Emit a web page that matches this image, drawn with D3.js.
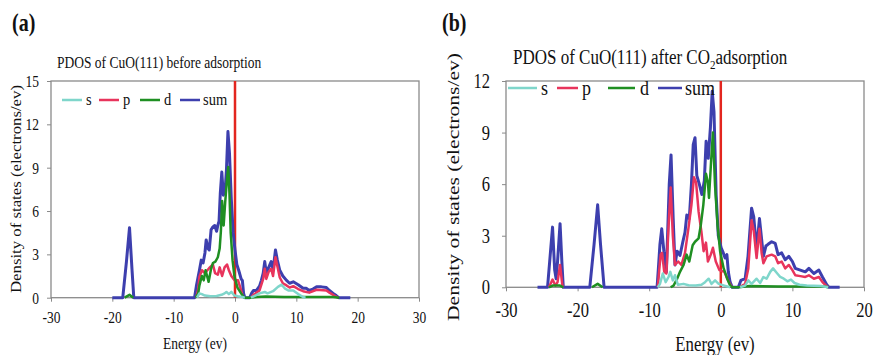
<!DOCTYPE html>
<html>
<head>
<meta charset="utf-8">
<script src="https://cdn.jsdelivr.net/npm/d3@7"></script>
<style>
  body { margin: 0; background: #fff; }
  svg { display: block; }
  text { font-family: 'Liberation Serif', 'Times New Roman', Times, serif; fill: #111; }
</style>
</head>
<body>
<div id="chart"></div>
<script>
(function() {
  const seriesNames = ['s', 'p', 'd', 'sum'];
  const seriesColors = { s: '#7fd6cb', p: '#e8345c', d: '#1f8f22', sum: '#3d3fae' };

  const ticksAx = [-30, -20, -10, 0, 10, 20, 30];
  const ticksAy = [0, 3, 6, 9, 12, 15];
  const ticksBx = [-30, -20, -10, 0, 10, 20];
  const ticksBy = [0, 3, 6, 9, 12];

  // [energy (eV), DOS]; null breaks the line
  const aSum = [[-20,0],[-18.3,0],[-17.7,2.5],[-17.2,4.85],[-16.8,2.0],[-16.5,0],
    [-6.6,0],[-6.3,0.8],[-5.8,1.9],[-5.5,2.6],[-5.2,2.4],[-4.9,3.1],[-4.7,4.0],[-4.4,3.4],[-4.2,3.3],
    [-3.9,4.7],[-3.6,4.9],[-3.3,5.0],[-3.0,4.6],[-2.8,5.0],[-2.6,5.3],[-2.4,7.2],[-2.15,8.7],[-1.9,7.1],
    [-1.6,7.5],[-1.4,8.8],[-1.15,11.5],[-0.9,10.0],[-0.6,6.8],[-0.3,4.5],[0,3.3],[0.3,2.3],[0.6,1.9],
    [1.0,1.3],[1.2,1.2],[1.4,0.3],[1.6,0],
    [2.4,0],[2.7,0.3],[3.0,0.5],[3.5,0.5],[4.0,0.8],[4.3,1.2],[4.6,1.7],[4.85,2.5],[5.1,1.7],[5.5,2.1],
    [5.9,2.5],[6.2,1.9],[6.6,3.3],[6.9,2.6],[7.3,1.9],[7.8,1.5],[8.4,1.2],[8.9,1.0],[9.5,1.1],[10.3,0.9],
    [11.1,0.65],[11.6,0.65],[12.1,0.5],[12.7,0.6],[13.3,0.75],[14.1,0.75],[14.9,0.7],[15.4,0.5],
    [16.0,0.3],[16.5,0.15],[16.9,0],[18.8,0]];
  const aP = [[-6.3,0],[-6.0,0.6],[-5.8,1.45],[-5.4,1.9],[-4.9,1.7],[-4.5,1.9],[-4.1,2.1],[-3.6,2.3],
    [-3.25,1.7],[-2.8,1.6],[-2.5,2.1],[-2.1,1.5],[-1.7,2.1],[-1.3,2.3],[-1.0,1.9],[-0.6,1.5],[-0.05,1.2],
    [0.5,1.2],[1.0,0.5],[1.3,0], null,
    [2.6,0],[3.0,0.2],[4.0,0.5],[4.3,0.9],[4.6,1.3],[4.85,2.0],[5.1,1.3],[5.5,1.8],[5.9,2.0],[6.2,1.5],
    [6.6,2.8],[6.9,2.2],[7.3,1.4],[7.8,1.0],[8.4,0.85],[8.9,0.7],[9.5,0.8],[10.3,0.6],[11.1,0.45],
    [12.1,0.35],[13.3,0.55],[14.9,0.5],[15.4,0.35],[16.3,0.12],[16.8,0]];
  const aD = [[-18.0,0],[-17.2,0.2],[-16.6,0], null,
    [-6.4,0],[-6.0,0.3],[-5.8,0.85],[-5.4,1.5],[-5.1,1.2],[-4.8,1.9],[-4.3,1.1],[-3.9,2.0],[-3.6,2.4],
    [-3.2,2.5],[-2.8,2.8],[-2.5,3.4],[-2.3,4.6],[-2.1,6.7],[-1.85,5.0],[-1.6,6.6],[-1.3,8.2],[-1.1,9.05],
    [-0.9,7.2],[-0.7,4.5],[-0.4,2.6],[-0.1,1.5],[0.4,0.7],[1.0,0.3],[1.5,0],
    [2.5,0],[3.5,0.05],[5,0.08],[8,0.05],[12,0.05],[16,0.05],[17,0]];
  const aS = [[-6.2,0],[-5.8,0.3],[-5.4,0.25],[-4.9,0.15],[-4,0.1],[-3,0.12],[-2.2,0.2],[-1.7,0.3],
    [-1.4,0.4],[-1.0,0.25],[-0.6,0.4],[-0.1,0.15],[0.5,0.1],[1.2,0.05],[1.6,0], null,
    [2.6,0],[3.3,0.15],[4.0,0.3],[4.85,0.4],[5.3,0.3],[6.2,0.45],[7.0,0.75],[7.6,0.9],[8.1,0.65],
    [8.7,0.5],[9.5,0.5],[10.3,0.25],[11.1,0.05],[11.5,0]];

  const bSum = [[-25.6,0],[-24.2,0],[-23.9,1.5],[-23.5,3.5],[-23.2,1.0],[-23.0,0.5],[-22.8,1.5],
    [-22.45,3.7],[-22.2,1.5],[-22.0,0],
    [-18.3,0],[-17.7,2.5],[-17.2,4.8],[-16.8,2.5],[-16.3,0],
    [-8.9,0],[-8.7,1.2],[-8.5,2.5],[-8.25,3.4],[-7.95,2.1],[-7.6,0.9],[-7.2,6.0],[-6.95,7.7],[-6.65,4.0],
    [-6.4,1.3],[-6.1,2.1],[-5.7,1.85],[-5.3,2.65],[-5.0,3.2],[-4.75,4.2],[-4.4,4.0],[-4.1,6.0],[-3.85,8.3],
    [-3.6,8.7],[-3.35,6.5],[-3.0,6.0],[-2.65,5.4],[-2.3,6.2],[-2.05,8.5],[-1.75,7.5],[-1.45,9.3],
    [-1.2,11.4],[-0.95,10.2],[-0.65,5.4],[-0.35,3.0],[0.05,2.3],[0.35,2.0],[0.6,1.7],[0.85,1.9],
    [1.05,0.9],[1.3,0.3],[1.6,0],
    [2.45,0],[2.8,0.4],[3.4,0.5],[3.8,1.8],[4.3,4.6],[4.6,4.1],[5.0,2.2],[5.4,4.0],[5.7,2.8],[5.95,1.8],
    [6.3,2.4],[6.6,2.5],[7.1,2.65],[7.6,2.55],[8.0,1.9],[8.5,2.0],[9.0,1.6],[9.5,1.8],[10.0,1.5],
    [10.4,1.1],[11.1,1.0],[11.8,0.9],[12.3,1.1],[13.0,0.8],[13.7,1.0],[14.2,0.6],[14.8,0.15],[15.1,0],
    [16.6,0]];
  const bP = [[-24.0,0],[-23.5,0.45],[-23.1,0.1],[-22.8,0.3],[-22.45,1.3],[-22.1,0], null,
    [-8.8,0],[-8.6,1.0],[-8.4,1.9],[-8.2,2.0],[-7.9,0.9],[-7.6,0.8],[-7.3,3.5],[-7.0,5.8],[-6.7,3.0],
    [-6.4,1.3],[-5.95,1.5],[-5.5,1.3],[-5.0,2.0],[-4.5,3.5],[-4.1,4.8],[-3.75,6.4],[-3.45,6.1],[-3.1,4.4],
    [-2.7,3.2],[-2.4,2.1],[-2.07,2.6],[-1.8,1.5],[-1.4,1.9],[-1.1,2.3],[-0.7,1.5],[-0.2,1.0],[0.5,0.9],
    [0.9,0.5],[1.4,0.1],[1.6,0], null,
    [2.6,0],[3.4,0.2],[3.84,1.1],[4.3,3.9],[4.6,3.3],[5.0,1.7],[5.4,3.4],[5.7,2.0],[5.95,1.4],[6.4,1.8],
    [7.1,1.9],[7.6,1.8],[8.0,1.4],[8.5,1.5],[9.0,1.1],[9.5,1.3],[10.0,1.0],[10.4,0.7],[11.1,0.65],
    [11.8,0.6],[12.3,0.7],[13.0,0.5],[13.7,0.6],[14.2,0.3],[14.8,0.05],[15.0,0]];
  const bD = [[-24.0,0],[-23.5,0.1],[-22.45,0.1],[-22.0,0], null,
    [-18.0,0],[-17.2,0.2],[-16.5,0], null,
    [-7.0,0],[-6.6,0.1],[-6.1,0.5],[-5.7,0.9],[-5.2,1.3],[-4.77,1.9],[-4.4,1.5],[-3.93,2.45],[-3.6,2.65],
    [-3.1,2.85],[-2.8,3.6],[-2.44,4.8],[-2.07,6.6],[-1.8,6.1],[-1.65,5.2],[-1.36,7.3],[-1.1,9.0],
    [-0.8,5.9],[-0.45,3.6],[-0.1,2.1],[0.4,1.1],[0.9,0.5],[1.3,0.1],[1.6,0],[2.5,0],[4,0.08],[8,0.05],
    [12,0.05],[14.5,0.05],[15,0]];
  const bS = [[-8.8,0],[-8.5,0.2],[-8.1,0.8],[-7.7,0.3],[-7.3,0.6],[-7.05,0.9],[-6.7,0.4],[-6.4,0.7],
    [-6.0,0.15],[-5.2,0.2],[-4.5,0.12],[-3.5,0.1],[-2.7,0.15],[-2.2,0.3],[-1.7,0.5],[-1.3,0.2],
    [-0.8,0.4],[-0.3,0.2],[0.5,0.1],[1.3,0], null,
    [2.7,0],[3.4,0.1],[3.84,0.4],[4.3,0.2],[5.0,0.5],[5.5,0.25],[5.94,0.6],[6.4,0.5],[6.9,0.9],[7.3,1.1],
    [7.8,0.85],[8.3,0.6],[8.8,0.5],[9.3,0.35],[9.8,0.45],[10.3,0.25],[11,0.15],[12,0.1],[14,0.08],[15,0]];

  const W = 874, H = 355;
  const stretch = 1.22;  // the source figure is squashed sideways

  const svg = d3.select('#chart')
    .append('svg')
    .attr('width', W)
    .attr('height', H)
    .attr('font-family', "'Liberation Serif', 'Times New Roman', Times, serif");
  svg.append('rect').attr('width', W).attr('height', H).attr('fill', '#fff');

  function label(parent, str, x, y, size, anchor) {
    return parent.append('text')
      .attr('transform', `translate(${x},${y}) scale(1,${stretch})`)
      .attr('text-anchor', anchor || 'start')
      .style('font-size', size + 'px')
      .text(str);
  }

  function drawPanel(cfg) {
    const g = svg.append('g');
    const x = d3.scaleLinear().domain(cfg.xDomain).range([cfg.left, cfg.right]);
    const y = d3.scaleLinear().domain(cfg.yDomain).range([cfg.bottom, cfg.top]);

    // x axis
    const xa = g.append('g')
      .attr('transform', `translate(0,${cfg.bottom})`)
      .call(d3.axisBottom(x).tickValues(cfg.xTicks).tickSize(4).tickSizeOuter(0).tickFormat(d => String(d)));
    xa.select('.domain').remove();
    xa.attr('font-family', null).attr('font-size', null);
    xa.selectAll('line').attr('stroke', '#8a8a8a');
    xa.selectAll('text')
      .attr('y', null).attr('dy', null)
      .attr('dominant-baseline', 'central')
      .attr('transform', `translate(0,${cfg.xTickOffset}) scale(1,${stretch})`)
      .style('font-size', cfg.tickSize + 'px')
      .style('fill', '#111');

    // y axis
    const ya = g.append('g')
      .attr('transform', `translate(${cfg.left},0)`)
      .call(d3.axisLeft(y).tickValues(cfg.yTicks).tickSize(4).tickSizeOuter(0).tickFormat(d => String(d)));
    ya.select('.domain').remove();
    ya.attr('font-family', null).attr('font-size', null);
    ya.selectAll('line').attr('stroke', '#8a8a8a');
    ya.selectAll('text')
      .attr('x', null).attr('dy', null)
      .attr('dominant-baseline', 'central')
      .attr('transform', `translate(${-cfg.yTickOffset},0) scale(1,${stretch})`)
      .style('font-size', cfg.tickSize + 'px')
      .style('fill', '#111');

    // frame
    g.append('rect')
      .attr('x', cfg.left).attr('y', cfg.top)
      .attr('width', cfg.right - cfg.left)
      .attr('height', cfg.bottom - cfg.top)
      .attr('fill', 'none')
      .attr('stroke', '#8a8a8a')
      .attr('stroke-width', 1.3);

    // Fermi level
    g.append('line')
      .attr('x1', x(0)).attr('x2', x(0))
      .attr('y1', cfg.top).attr('y2', cfg.bottom)
      .attr('stroke', '#e3261f')
      .attr('stroke-width', 2.5);

    const line = d3.line()
      .defined(d => d !== null)
      .x(d => x(d[0]))
      .y(d => y(d[1]));

    ['sum', 'p', 'd', 's'].forEach(name => {
      g.append('path')
        .datum(cfg.series[name])
        .attr('d', line)
        .attr('fill', 'none')
        .attr('stroke', seriesColors[name])
        .attr('stroke-width', name === 'sum' ? 3 : 2.5)
        .attr('stroke-linejoin', 'round');
    });

    // legend
    seriesNames.forEach((name, i) => {
      const e = cfg.legend.items[i];
      g.append('line')
        .attr('x1', e[0]).attr('x2', e[1])
        .attr('y1', cfg.legend.y).attr('y2', cfg.legend.y)
        .attr('stroke', seriesColors[name])
        .attr('stroke-width', 2.5);
      label(g, name, e[2], cfg.legend.baseline, cfg.legend.size);
    });

    // titles and labels
    label(g, cfg.tag, cfg.tagPos[0], cfg.tagPos[1], 20).style('font-weight', 'bold');
    const t = label(g, cfg.title[0], cfg.titlePos[0], cfg.titlePos[1], cfg.titleSize);
    if (cfg.title.length > 1) {
      t.append('tspan').attr('dy', 4).style('font-size', (cfg.titleSize * 0.65) + 'px').text(cfg.title[1]);
      t.append('tspan').attr('dy', -4).text(cfg.title[2]);
    }
    label(g, 'Energy (ev)', cfg.xLabelPos[0], cfg.xLabelPos[1], cfg.xLabelSize, 'middle');

    g.append('text')
      .attr('transform', `translate(${cfg.yLabelPos[0]},${cfg.yLabelPos[1]}) rotate(-90)`)
      .attr('text-anchor', 'middle')
      .attr('dominant-baseline', 'central')
      .attr('textLength', cfg.yLabelLen)
      .attr('lengthAdjust', 'spacingAndGlyphs')
      .style('font-size', cfg.yLabelSize + 'px')
      .text('Density of states (electrons/ev)');
  }

  drawPanel({
    left: 51, right: 419, top: 81, bottom: 297.7,
    xDomain: [-30, 30], yDomain: [0, 15],
    xTicks: ticksAx, yTicks: ticksAy,
    tickSize: 13.5, xTickOffset: 20, yTickOffset: 12,
    series: { s: aS, p: aP, d: aD, sum: aSum },
    legend: { y: 100, baseline: 105, size: 14.5,
      items: [[62, 82, 86], [99, 119, 123], [140, 160, 164], [180, 200, 203]] },
    tag: '(a)', tagPos: [12, 31],
    title: ['PDOS of CuO(111) before adsorption'], titlePos: [57, 68], titleSize: 13.5,
    xLabelPos: [195, 349], xLabelSize: 13.5,
    yLabelPos: [16, 189], yLabelLen: 208, yLabelSize: 14
  });

  drawPanel({
    left: 506, right: 864, top: 81, bottom: 287.3,
    xDomain: [-30, 20], yDomain: [0, 12],
    xTicks: ticksBx, yTicks: ticksBy,
    tickSize: 16.5, xTickOffset: 23, yTickOffset: 16,
    series: { s: bS, p: bP, d: bD, sum: bSum },
    legend: { y: 88, baseline: 95, size: 18,
      items: [[508, 537, 541], [557, 578, 582], [608, 635, 640], [658, 682, 685]] },
    tag: '(b)', tagPos: [442, 31],
    title: ['PDOS of CuO(111) after CO', '2', 'adsorption'], titlePos: [513, 64], titleSize: 17,
    xLabelPos: [715, 351], xLabelSize: 16.8,
    yLabelPos: [453, 187], yLabelLen: 268, yLabelSize: 17
  });
})();
</script>
</body>
</html>
